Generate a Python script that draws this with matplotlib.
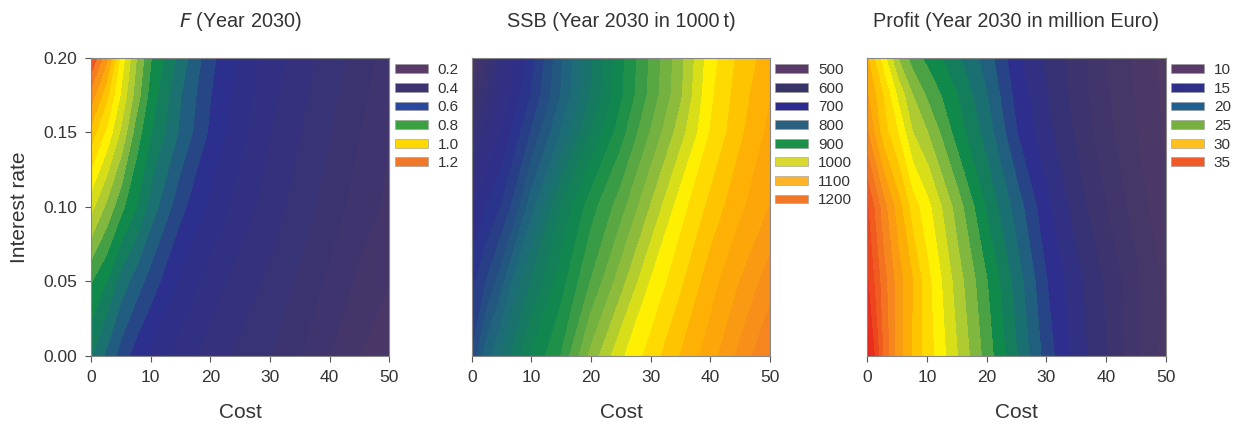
import numpy as np
import matplotlib.pyplot as plt
from matplotlib.colors import LinearSegmentedColormap, Normalize
from matplotlib.patches import Patch

plt.rcParams['font.family'] = ['Liberation Sans', 'DejaVu Sans']

# grid
cost = [0, 2.5, 5, 7.5, 10, 15, 20, 25, 30, 35, 40, 45, 50]
rate = [0.0, 0.05, 0.10, 0.15, 0.175, 0.20]

# F in 2030, one list per interest rate
f_r000 = [0.74, 0.69, 0.64, 0.60, 0.57, 0.52, 0.48, 0.45, 0.42, 0.38, 0.34, 0.30, 0.26]
f_r005 = [0.82, 0.78, 0.72, 0.68, 0.64, 0.57, 0.52, 0.48, 0.45, 0.41, 0.37, 0.33, 0.30]
f_r010 = [0.95, 0.89, 0.83, 0.78, 0.72, 0.63, 0.57, 0.52, 0.48, 0.44, 0.40, 0.36, 0.33]
f_r015 = [1.08, 1.01, 0.93, 0.84, 0.78, 0.69, 0.61, 0.55, 0.50, 0.46, 0.42, 0.38, 0.34]
f_r0175 = [1.16, 1.07, 0.97, 0.88, 0.80, 0.70, 0.62, 0.56, 0.51, 0.47, 0.43, 0.39, 0.35]
f_r020 = [1.25, 1.15, 1.00, 0.90, 0.82, 0.72, 0.63, 0.57, 0.52, 0.48, 0.44, 0.40, 0.36]

# SSB in 2030 (1000 t)
ssb_r000 = [740, 790, 820, 850, 880, 920, 985, 1035, 1068, 1100, 1130, 1165, 1200]
ssb_r005 = [710, 740, 770, 810, 840, 890, 940, 990, 1040, 1075, 1110, 1140, 1170]
ssb_r010 = [680, 700, 720, 750, 790, 860, 910, 950, 1000, 1050, 1085, 1115, 1140]
ssb_r015 = [610, 650, 680, 710, 740, 800, 860, 910, 960, 1010, 1060, 1095, 1125]
ssb_r0175 = [575, 620, 660, 690, 720, 780, 840, 895, 945, 995, 1055, 1090, 1118]
ssb_r020 = [530, 595, 645, 680, 710, 775, 835, 893, 942, 992, 1050, 1085, 1110]

# profit in 2030 (million Euro)
pr_r000 = [37.5, 34.0, 31.5, 29.8, 28.5, 26.0, 23.5, 21.0, 18.5, 16.5, 15.0, 13.2, 11.5]
pr_r005 = [36.0, 33.5, 31.5, 30.0, 28.3, 25.5, 23.0, 20.5, 18.0, 16.3, 14.8, 13.2, 11.8]
pr_r010 = [35.0, 32.5, 30.5, 28.5, 27.3, 24.5, 21.8, 19.5, 17.2, 15.5, 14.0, 12.5, 11.2]
pr_r015 = [32.0, 29.5, 28.0, 26.0, 25.0, 22.5, 20.5, 18.0, 16.3, 14.8, 13.3, 12.0, 10.8]
pr_r0175 = [31.0, 29.0, 26.8, 25.0, 23.8, 22.0, 20.0, 17.6, 16.0, 14.6, 13.1, 11.9, 10.7]
pr_r020 = [30.0, 27.5, 25.0, 23.5, 22.7, 21.2, 19.5, 17.2, 15.8, 14.5, 13.0, 11.8, 10.6]

f_legend = ['0.2', '0.4', '0.6', '0.8', '1.0', '1.2']
ssb_legend = ['500', '600', '700', '800', '900', '1000', '1100', '1200']
pr_legend = ['10', '15', '20', '25', '30', '35']

palette = ['#523a62', '#3a3370', '#2d2e8e', '#1d6a7a', '#0f8a4a',
           '#9cc23c', '#fff200', '#ffb800', '#f57e22', '#e8251e']


def make_cmap(stops):
    pos = [(s - stops[0]) / (stops[-1] - stops[0]) for s in stops]
    return LinearSegmentedColormap.from_list('c', list(zip(pos, palette))), Normalize(stops[0], stops[-1])


panels = [
    (r'$\it{F}$ (Year 2030)', [f_r000, f_r005, f_r010, f_r015, f_r0175, f_r020],
     [0.2, 0.4, 0.6, 0.7, 0.8, 0.9, 1.0, 1.1, 1.2, 1.3], np.arange(0.18, 1.34, 0.04),
     f_legend, ['#5a3a68', '#3b3470', '#2a48a0', '#3aa040', '#ffd800', '#f07828']),
    ('SSB (Year 2030 in 1000\u2009t)', [ssb_r000, ssb_r005, ssb_r010, ssb_r015, ssb_r0175, ssb_r020],
     [500, 600, 700, 800, 900, 1000, 1050, 1100, 1200, 1300], np.arange(480, 1230, 20),
     ssb_legend, ['#5a3a68', '#3a3568', '#2b2b90', '#2a6080', '#1a9048', '#d8d830', '#ffb428', '#f07828']),
    ('Profit (Year 2030 in million Euro)', [pr_r000, pr_r005, pr_r010, pr_r015, pr_r0175, pr_r020],
     [10, 15, 17.5, 20, 22.5, 25, 27.5, 30, 33, 37], np.arange(10, 38.5, 1),
     pr_legend, ['#5a3a68', '#30308a', '#206090', '#78b040', '#ffc020', '#f05a28']),
]

fig = plt.figure(figsize=(12.33, 4.24), dpi=100)
lefts = [0.0738, 0.3826, 0.7034]
txt = '#333333'

for i, (title, rows, stops, levels, leg_lab, leg_col) in enumerate(panels):
    ax = fig.add_axes([lefts[i], 0.1604, 0.2420, 0.703])
    cmap, norm = make_cmap(stops)
    cs = ax.contourf(cost, rate, np.array(rows), levels=levels, cmap=cmap, norm=norm, extend='both')
    cs.set_edgecolor('face')
    ax.set_xlim(0, 50)
    ax.set_ylim(0, 0.2)
    ax.set_xticks([0, 10, 20, 30, 40, 50])
    ax.tick_params(colors='#555555', labelcolor=txt, labelsize=12.5, length=4, width=0.8, pad=6)
    for s in ax.spines.values():
        s.set_color('#888888')
        s.set_linewidth(0.8)
    if i == 0:
        ax.set_yticks([0, 0.05, 0.10, 0.15, 0.20])
        ax.set_yticklabels(['0.00', '0.05', '0.10', '0.15', '0.20'])
        ax.set_ylabel('Interest rate', fontsize=15, color=txt, labelpad=10)
    else:
        ax.set_yticks([])
    ax.set_xlabel('Cost', fontsize=15, color=txt, labelpad=13)
    ax.set_title(title, fontsize=14.3, color=txt, pad=22)
    handles = [Patch(facecolor=c, edgecolor='#999999', linewidth=0.4) for c in leg_col]
    ax.legend(handles, leg_lab, loc='upper left', bbox_to_anchor=(1.0, 1.0), frameon=False,
              fontsize=11, handlelength=2.15, handleheight=0.5, handletextpad=0.65,
              labelspacing=0.3, borderaxespad=0.1, borderpad=0.25, labelcolor=txt)

fig.savefig('out.png', dpi=100)
